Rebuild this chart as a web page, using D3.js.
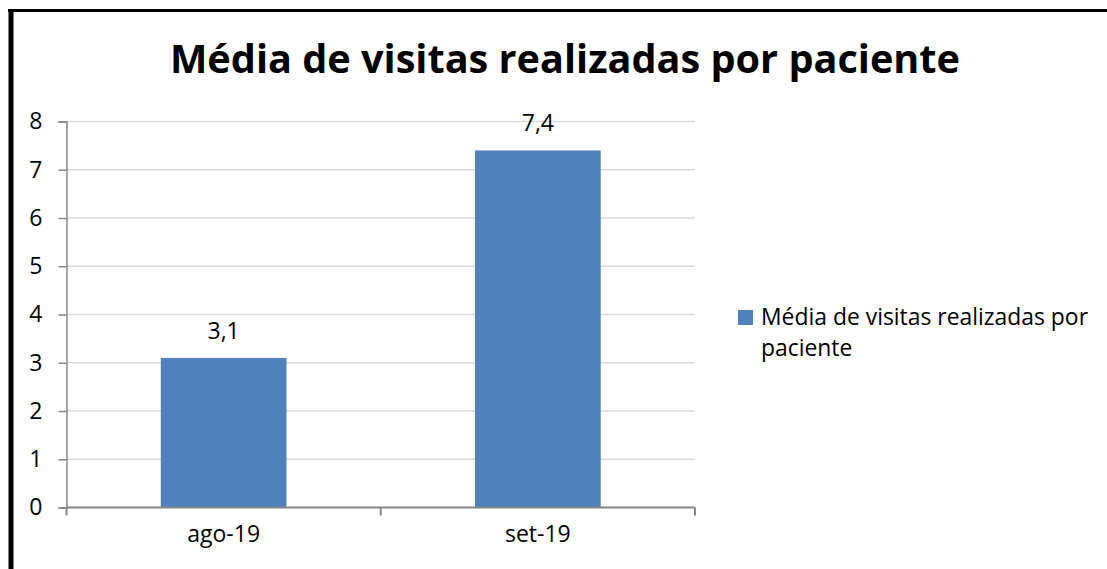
<!DOCTYPE html>
<html>
<head>
<meta charset="utf-8">
<script src="https://cdn.jsdelivr.net/npm/d3@7"></script>
<style>
  html, body { margin: 0; padding: 0; background: #fff; }
  svg { display: block; font-family: "Open Sans", "Liberation Sans", sans-serif; }
</style>
</head>
<body>
<svg id="chart" width="1107" height="569"></svg>
<script>
const title = "Média de visitas realizadas por paciente";
const categories = ["ago-19", "set-19"];
const values = [3.1, 7.4];
const valueLabels = ["3,1", "7,4"];
const yTicks = [0, 1, 2, 3, 4, 5, 6, 7, 8];
const legendLines = ["Média de visitas realizadas por", "paciente"];

const svg = d3.select("#chart");
const W = 1107, H = 569;
const plot = { left: 66.5, right: 695, top: 121.5, bottom: 507.5 };
const barColor = "#4F81BD";

// outer frame (only top and left edges visible)
svg.append("rect").attr("x", 0).attr("y", 0).attr("width", W).attr("height", H).attr("fill", "#fff");
svg.append("line").attr("x1", 8).attr("x2", W).attr("y1", 10.5).attr("y2", 10.5)
  .attr("stroke", "#000").attr("stroke-width", 3);
svg.append("line").attr("x1", 11).attr("x2", 11).attr("y1", 9).attr("y2", H)
  .attr("stroke", "#000").attr("stroke-width", 5);

// squeeze text horizontally (Calibri-like proportions)
function squeeze(sel, factor) {
  const w = sel.node().getComputedTextLength();
  sel.attr("textLength", w * factor).attr("lengthAdjust", "spacingAndGlyphs");
}

// title
const t = svg.append("text").attr("x", 565).attr("y", 73)
  .attr("text-anchor", "middle").attr("font-weight", "bold")
  .attr("font-size", 39).attr("fill", "#000").text(title);
squeeze(t, 790 / t.node().getComputedTextLength());

const y = d3.scaleLinear().domain([0, 8]).range([plot.bottom, plot.top]);
const x = d3.scaleBand().domain(categories).range([plot.left, plot.right])
  .paddingInner(0.6).paddingOuter(0.3);

// gridlines
svg.append("g").selectAll("line").data(yTicks.filter(d => d > 0)).join("line")
  .attr("x1", plot.left).attr("x2", plot.right)
  .attr("y1", d => y(d)).attr("y2", d => y(d))
  .attr("stroke", "#d9d9d9").attr("stroke-width", 1.5);

// bars
svg.append("g").selectAll("rect").data(values).join("rect")
  .attr("x", (d, i) => x(categories[i]))
  .attr("width", x.bandwidth())
  .attr("y", d => y(d))
  .attr("height", d => y(0) - y(d))
  .attr("fill", barColor);

// data labels
svg.append("g").selectAll("text").data(values).join("text")
  .attr("x", (d, i) => x(categories[i]) + x.bandwidth() / 2)
  .attr("y", d => y(d) - 19)
  .attr("text-anchor", "middle").attr("font-size", 23).attr("fill", "#000")
  .text((d, i) => valueLabels[i]);

// y axis
const yAxis = svg.append("g").attr("transform", `translate(${plot.left},0)`)
  .call(d3.axisLeft(y).tickValues(yTicks).tickSize(8).tickPadding(16).tickFormat(d3.format("d")));
yAxis.select(".domain").attr("stroke", "#868686").attr("stroke-width", 1.5);
yAxis.selectAll(".tick line").attr("stroke", "#868686").attr("stroke-width", 1.5);
yAxis.selectAll(".tick text").attr("font-size", 23).attr("fill", "#000")
  .attr("font-family", "Open Sans, sans-serif");

// x axis
const step = x.step();
const bounds = [plot.left].concat(categories.map(c => x(c) - x.paddingOuter() * step + step));
const xg = svg.append("g");
xg.append("line").attr("x1", plot.left).attr("x2", plot.right)
  .attr("y1", plot.bottom).attr("y2", plot.bottom)
  .attr("stroke", "#868686").attr("stroke-width", 2);
xg.selectAll("line.tk").data(bounds).join("line").attr("class", "tk")
  .attr("x1", d => d).attr("x2", d => d)
  .attr("y1", plot.bottom).attr("y2", plot.bottom + 8)
  .attr("stroke", "#868686").attr("stroke-width", 2);
xg.selectAll("text").data(categories).join("text")
  .attr("x", d => x(d) + x.bandwidth() / 2).attr("y", 542)
  .attr("text-anchor", "middle").attr("font-size", 23).attr("fill", "#000")
  .text(d => d);

// legend
svg.append("rect").attr("x", 738).attr("y", 310).attr("width", 15).attr("height", 15)
  .attr("fill", barColor);
const legendTexts = svg.append("g").selectAll("text").data(legendLines).join("text")
  .attr("x", 761).attr("y", (d, i) => 325 + i * 31)
  .attr("font-size", 23).attr("fill", "#000").text(d => d);
const lf = 327 / legendTexts.nodes()[0].getComputedTextLength();
legendTexts.each(function () { squeeze(d3.select(this), lf); });
</script>
</body>
</html>
